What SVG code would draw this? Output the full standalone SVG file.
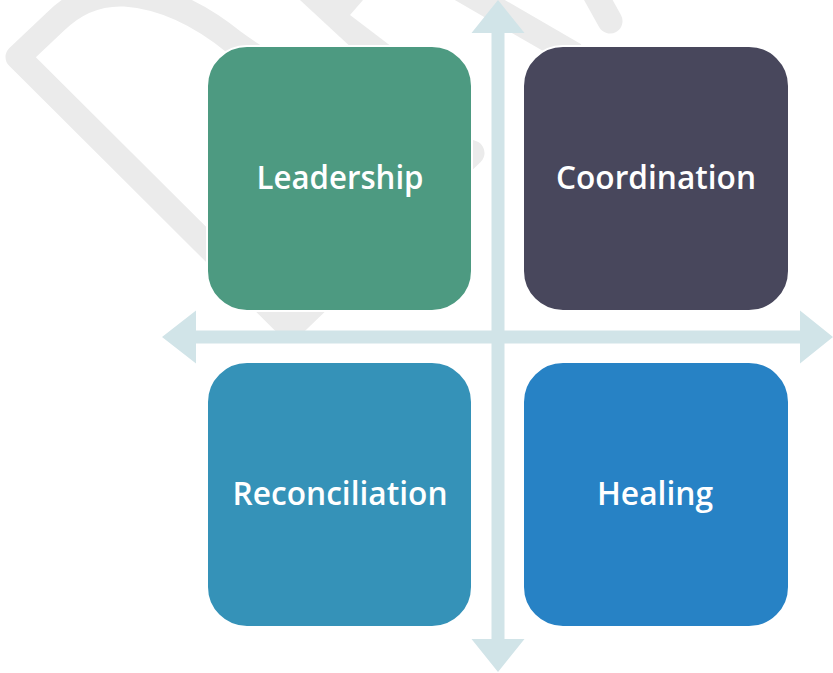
<svg xmlns="http://www.w3.org/2000/svg" width="833" height="673" viewBox="0 0 833 673">
  <style>
    .wm { fill: none; stroke: #EBEBEB; stroke-width: 25; }
    .wmf { fill: #EBEBEB; stroke: none; }
    .axis { fill: #D1E4E8; stroke: none; }
    .box { stroke: #FFFFFF; stroke-width: 2; }
    .lbl { font-family: "Open Sans", "Noto Sans", "Liberation Sans", sans-serif; font-weight: 600; font-size: 32px; fill: #FFFFFF; text-anchor: middle; }
  </style>
  <rect x="0" y="0" width="833" height="673" fill="#FFFFFF"/>
  <g id="watermark">
    <path class="wm" stroke-linejoin="round" d="M 290,328 L 18,57 L 55,22 Q 85,-8 125,-6 Q 180,-2 235,43 C 300,90 400,125 472,153 Z"/>
    <polygon class="wmf" points="300,0 363,0 350,15 396,50 354,50"/>
    <line class="wm" x1="440" y1="-23" x2="575" y2="55"/>
    <line class="wm" stroke-linecap="round" x1="590" y1="-15" x2="610" y2="21"/>
  </g>
  <g id="connectors">
    <polygon id="axis-vertical" class="axis" points="498,0 524.5,33 504.5,33 504.5,639 524.5,639 498,672 471.5,639 491.5,639 491.5,33 471.5,33"/>
    <polygon id="axis-horizontal" class="axis" points="162,337 196,310.5 196,330.5 800,330.5 800,310.5 833,337 800,363.5 800,343.5 196,343.5 196,363.5"/>
  </g>
  <g id="leadership">
    <rect class="box" x="207" y="46" width="265" height="265" rx="40" ry="40" fill="#4D9A81"/>
    <text class="lbl" x="340" y="189" textLength="167" lengthAdjust="spacingAndGlyphs">Leadership</text>
  </g>
  <g id="coordination">
    <rect class="box" x="523" y="46" width="266" height="265" rx="40" ry="40" fill="#48475C"/>
    <text class="lbl" x="656" y="189" textLength="200" lengthAdjust="spacingAndGlyphs">Coordination</text>
  </g>
  <g id="reconciliation">
    <rect class="box" x="207" y="362" width="265" height="265" rx="40" ry="40" fill="#3592B8"/>
    <text class="lbl" x="340" y="505" textLength="215" lengthAdjust="spacingAndGlyphs">Reconciliation</text>
  </g>
  <g id="healing">
    <rect class="box" x="523" y="362" width="266" height="265" rx="40" ry="40" fill="#2782C5"/>
    <text class="lbl" x="655" y="505" textLength="116" lengthAdjust="spacingAndGlyphs">Healing</text>
  </g>
</svg>
